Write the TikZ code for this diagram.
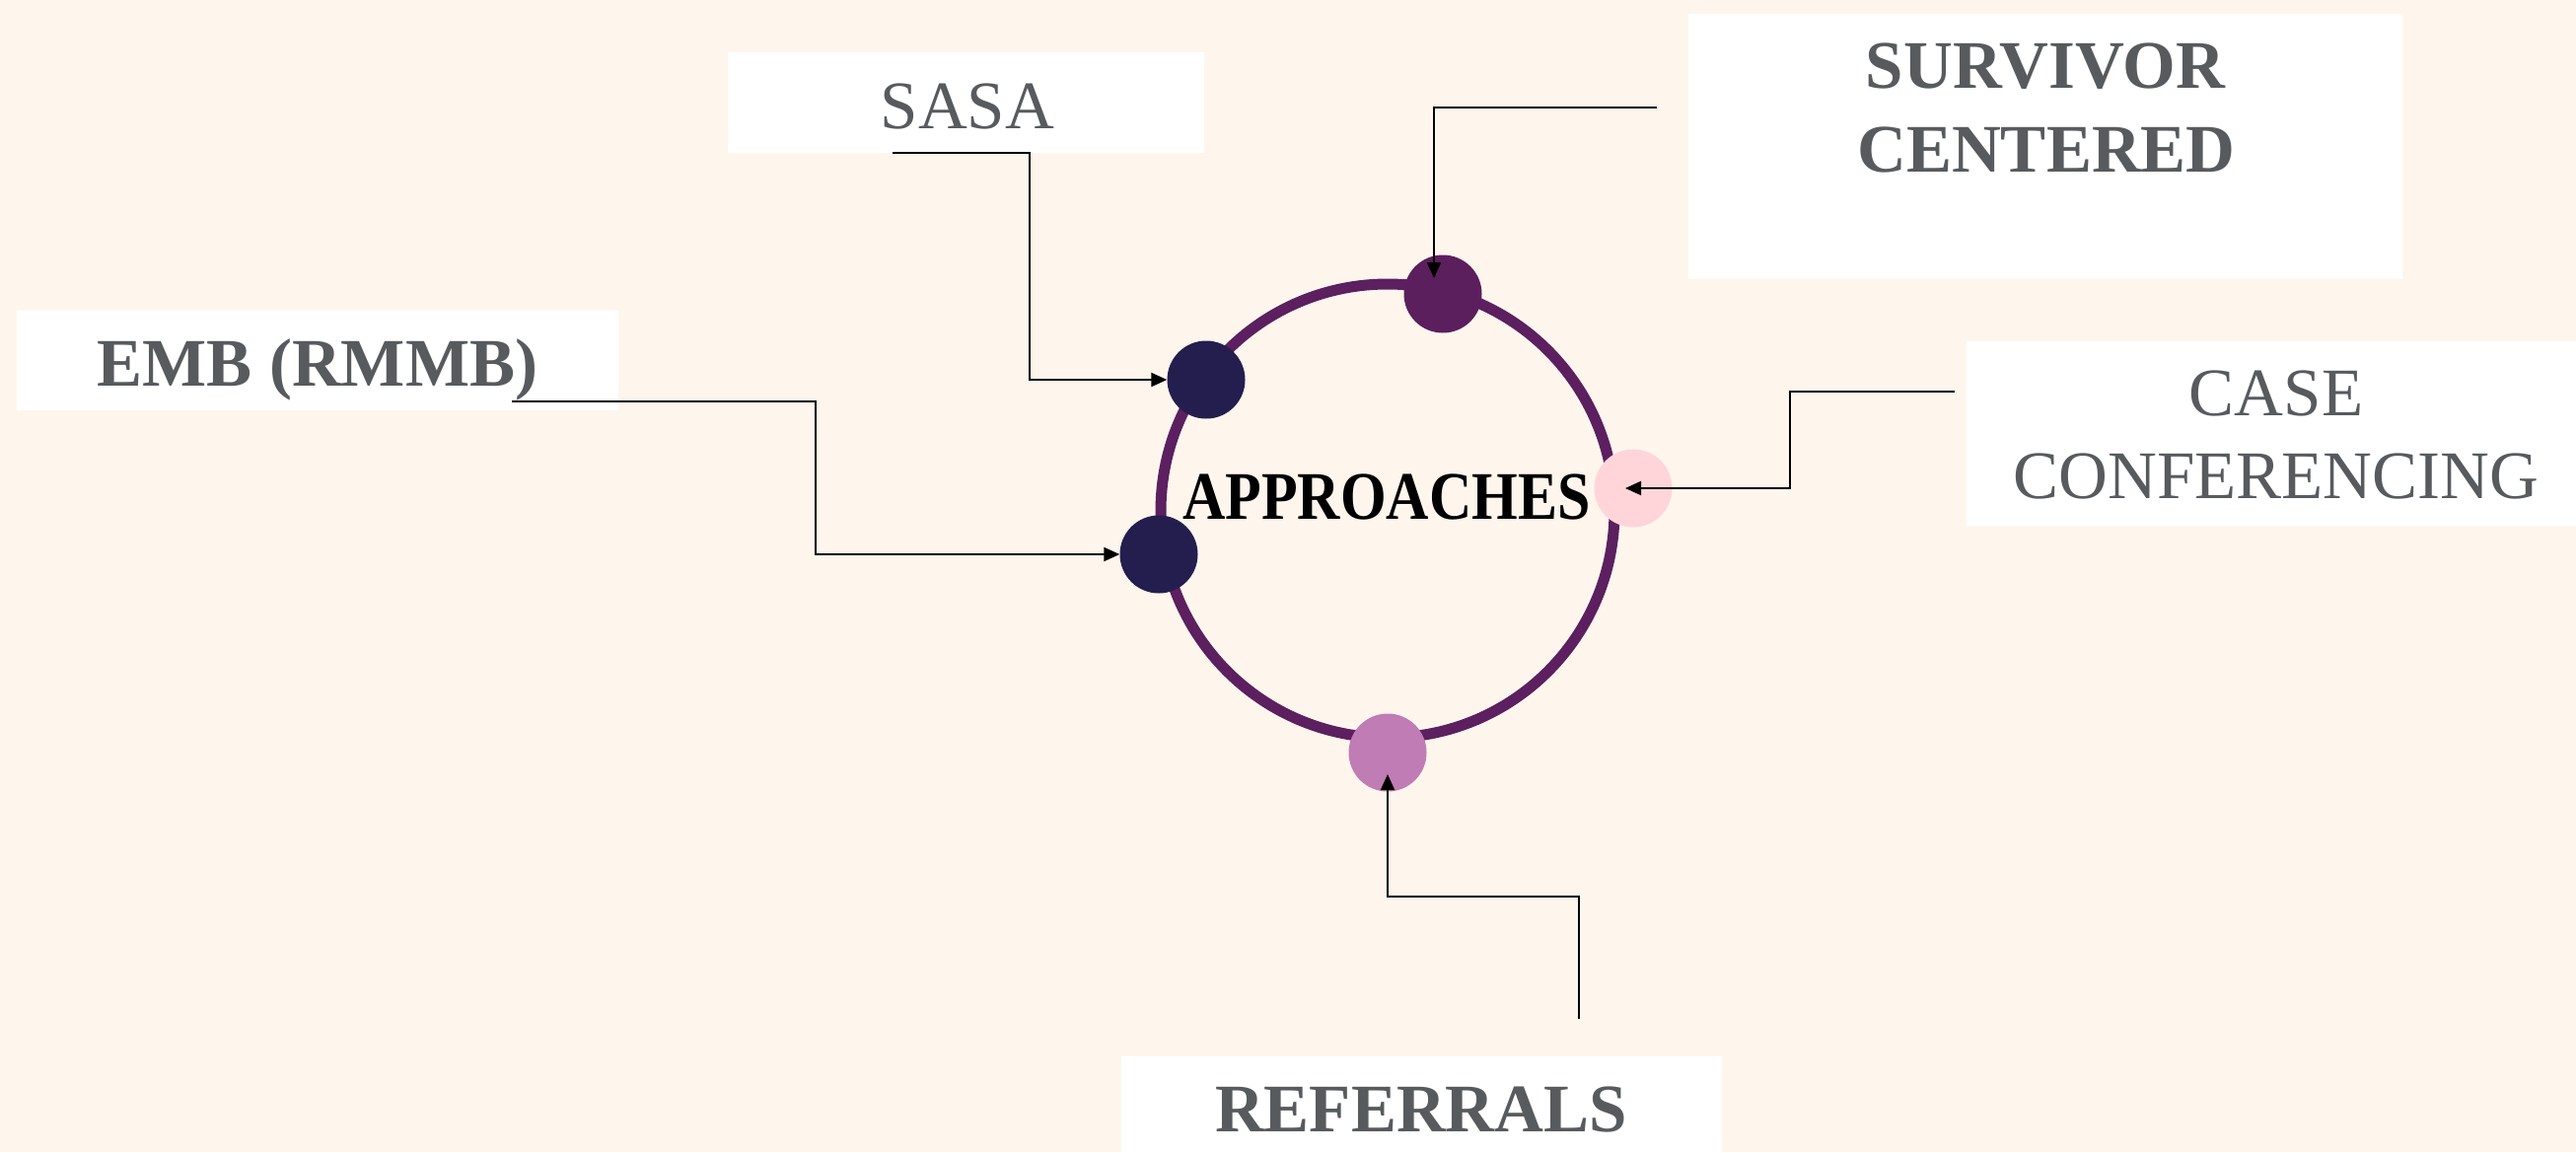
\documentclass[tikz,border=0pt]{standalone}
\usepackage{fontspec}
\usepackage{graphicx}
\setmainfont{Liberation Serif}
\usetikzlibrary{arrows.meta,calc}
\definecolor{bgcream}{HTML}{FEF6ED}
\definecolor{labelgray}{HTML}{575B5E}
\definecolor{ringpurple}{HTML}{5C1F60}
\definecolor{dotnavy}{HTML}{241E4E}
\definecolor{dotpurple}{HTML}{5C1F5E}
\definecolor{dotpink}{HTML}{FFD5D9}
\definecolor{dotorchid}{HTML}{C07CB4}
\begin{document}
\begin{tikzpicture}[x=1pt,y=-1pt,
  labelbox/.style={rectangle,fill=white,draw=none,inner sep=0pt},
  lbl/.style={inner sep=0pt,anchor=base,text=labelgray,font=\fontsize{69}{83}\selectfont},
  lblbold/.style={lbl,font=\fontsize{69}{83}\selectfont\bfseries},
  dotnode/.style={circle,inner sep=0pt,minimum size=79pt,draw=none},
  conn/.style={draw=black,line width=2pt,-{Triangle[length=16pt,width=14pt]}}]
\fill[bgcream] (0,0) rectangle (2612,1168);
\useasboundingbox (0,0) rectangle (2612,1168);

% label boxes
\node[labelbox,minimum width=483pt,minimum height=102pt] (sasaBox) at (979.5,104) {};
\node[labelbox,minimum width=610pt,minimum height=101pt] (embBox) at (322,365.5) {};
\node[labelbox,minimum width=724pt,minimum height=269pt] (svBox) at (2074,148.5) {};
\node[labelbox,minimum width=618pt,minimum height=187pt] (caseBox) at (2303,439.5) {};
\node[labelbox,minimum width=609pt,minimum height=97pt] (refBox) at (1441.5,1119.5) {};

% label texts
\node[lbl] (sasaTxt) at (981,130) {SASA};
\node[lblbold] (embTxt) at (322,391) {EMB (RMMB)};
\node[lblbold] (svTxtA) at (2074,89) {SURVIVOR};
\node[lblbold] (svTxtB) at (2075,174) {CENTERED};
\node[lbl] (caseTxtA) at (2308,421) {CASE};
\node[lbl] (caseTxtB) at (2308,505) {CONFERENCING};
\node[lblbold] (refTxt) at (1441,1147) {REFERRALS};

% ring
\node[circle,draw=ringpurple,line width=11pt,minimum size=460pt,inner sep=0pt] (ring) at (1407,518) {};

% dots
\node[dotnode,fill=dotnavy] (dotSASA) at (1223,385) {};
\node[dotnode,fill=dotnavy] (dotEMB) at (1175,562) {};
\node[dotnode,fill=dotpurple] (dotSV) at (1463,298) {};
\node[dotnode,fill=dotpink] (dotCase) at (1656,495) {};
\node[dotnode,fill=dotorchid] (dotRef) at (1407,763) {};

% centre title
\node[inner sep=0pt,anchor=base,text=black,font=\fontsize{69}{83}\selectfont\bfseries] (title) at (1406,526) {\scalebox{0.87}[1]{APPROACHES}};

% connector free ends
\coordinate (sasaStart) at (905,155);
\coordinate (embStart) at (519,407);
\coordinate (svStart) at (1680,109);
\coordinate (caseStart) at (1982,397);
\coordinate (refStart) at (1601,1033);

% connectors
\draw[conn] (sasaStart) -- ++(139,0) |- (dotSASA.west);
\draw[conn] (embStart) -- ++(308,0) |- (dotEMB.west);
\draw[conn] (svStart) -| ($(dotSV.center)+(-9,-16)$);
\draw[conn] (caseStart) -- ++(-167,0) |- ($(dotCase.center)+(-8,0)$);
\draw[conn] (refStart) -- ++(0,-124) -| ($(dotRef.center)+(0,22)$);
\end{tikzpicture}
\end{document}
